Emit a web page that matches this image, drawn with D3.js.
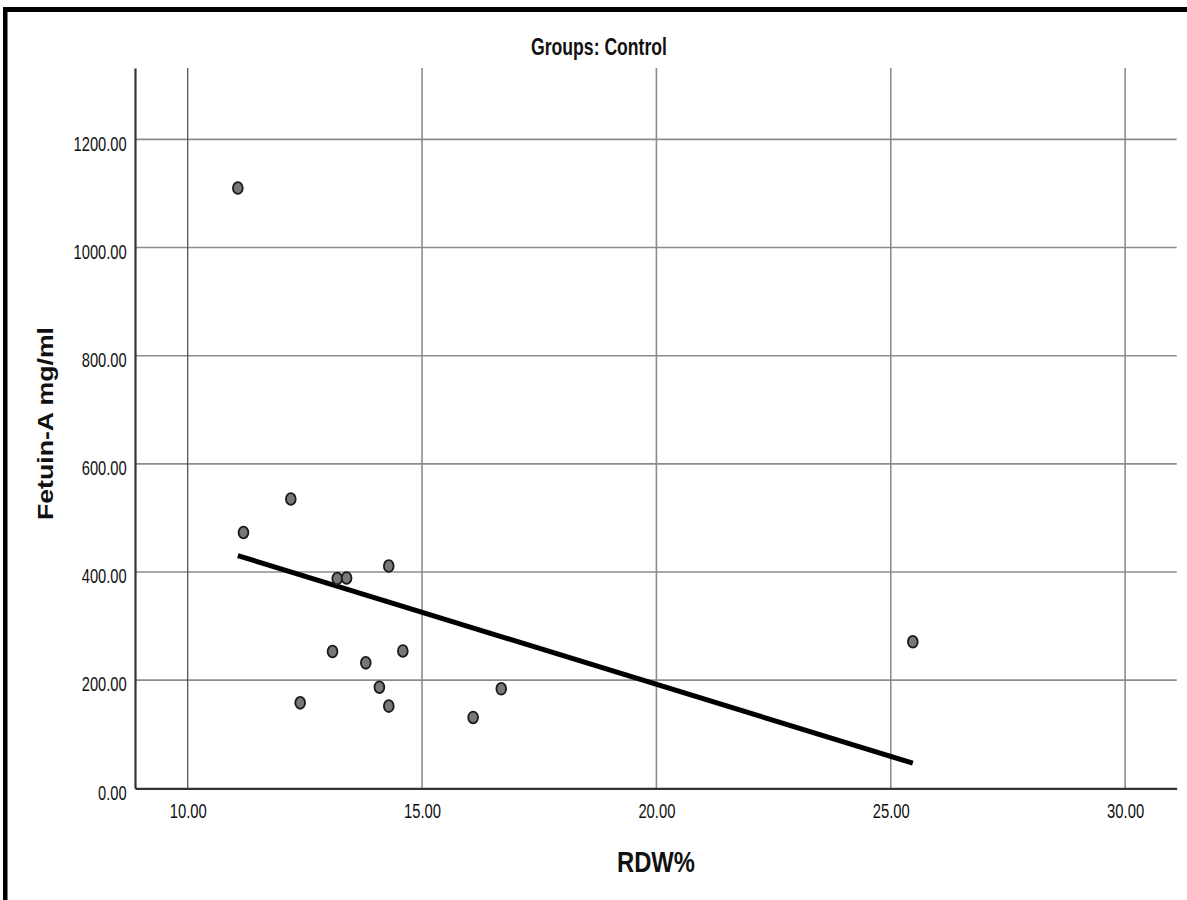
<!DOCTYPE html>
<html>
<head>
<meta charset="utf-8">
<script src="https://cdn.jsdelivr.net/npm/d3@7"></script>
<style>
  html, body { margin: 0; padding: 0; background: #fff; }
  svg { display: block; }
</style>
</head>
<body>
<svg id="chart" width="1187" height="900"></svg>
<script>
// ---- data ----
const rdw =    [11.07, 11.19, 12.20, 12.40, 13.09, 13.19, 13.39, 13.80, 14.09, 14.29, 14.29, 14.59, 16.09, 16.69, 25.47];
const fetuin = [1110,  473,   535,   158,   253,   388,   389,   232,   187,   411,   152,   254,   131,   184,   271];
const xTicks = [10, 15, 20, 25, 30];
const yTicks = [0, 200, 400, 600, 800, 1000, 1200];
const title = "Groups: Control";
const xLabel = "RDW%";
const yLabel = "Fetuin-A mg/ml";

(function () {
const svg = d3.select("#chart");
const W = 1187, H = 900;
const pLeft = 135, pRight = 1176.7, pTop = 68, pBottom = 788.3;

const x = d3.scaleLinear().domain([8.876, 31.1]).range([pLeft, pRight]);
const y = d3.scaleLinear().domain([0, 1332]).range([pBottom, pTop]);

const sans = "'Liberation Sans', Arial, sans-serif";

// frame (top and left black bands)
svg.append("rect").attr("x", 3).attr("y", 7).attr("width", W - 3).attr("height", 5).attr("fill", "#000");
svg.append("rect").attr("x", 3).attr("y", 7).attr("width", 4.5).attr("height", H - 7).attr("fill", "#000");

// gridlines
svg.append("g").selectAll("line").data(yTicks.filter(d => d > 0)).join("line")
  .attr("x1", pLeft).attr("x2", pRight)
  .attr("y1", d => y(d)).attr("y2", d => y(d))
  .attr("stroke", "#8c8c8c").attr("stroke-width", 1.6);
svg.append("g").selectAll("line").data(xTicks).join("line")
  .attr("x1", d => x(d)).attr("x2", d => x(d))
  .attr("y1", pTop).attr("y2", pBottom)
  .attr("stroke", d => d === 10 ? "#555" : "#8c8c8c")
  .attr("stroke-width", d => d === 10 ? 1.3 : 1.6);

// axes
const fmt = d3.format(".2f");
const gx = svg.append("g").attr("transform", `translate(0,${pBottom})`)
  .call(d3.axisBottom(x).tickValues(xTicks).tickFormat(fmt).tickSize(0).tickSizeOuter(0));
gx.select(".domain").attr("stroke", "#333").attr("stroke-width", 2.2);
gx.selectAll("text").attr("y", 0).attr("dy", 0)
  .attr("transform", "translate(0,29.7) scale(1,1.38)")
  .attr("font-family", sans).attr("font-size", 14.8).attr("fill", "#111");

const gy = svg.append("g").attr("transform", `translate(${pLeft},0)`)
  .call(d3.axisLeft(y).tickValues(yTicks).tickFormat(fmt).tickSize(0).tickSizeOuter(0));
gy.select(".domain").attr("stroke", "#333").attr("stroke-width", 2.2);
gy.selectAll("text").attr("x", 0).attr("dy", 0)
  .attr("transform", "translate(-8.3,10.7) scale(1,1.38)")
  .attr("font-family", sans).attr("font-size", 14.7).attr("fill", "#111");

// regression line (least squares fit of the points)
const mx = d3.mean(rdw), my = d3.mean(fetuin);
const sxy = d3.sum(rdw, (d, i) => (d - mx) * (fetuin[i] - my));
const sxx = d3.sum(rdw, d => (d - mx) * (d - mx));
const slope = sxy / sxx, icpt = my - slope * mx;
const [xmin, xmax] = d3.extent(rdw);
svg.append("path")
  .datum([xmin, xmax])
  .attr("d", d3.line().x(d => x(d)).y(d => y(icpt + slope * d)))
  .attr("stroke", "#000").attr("stroke-width", 5).attr("fill", "none");

// points
svg.append("g").selectAll("ellipse").data(rdw.map((d, i) => [d, fetuin[i]])).join("ellipse")
  .attr("cx", d => x(d[0])).attr("cy", d => y(d[1]))
  .attr("rx", 4.9).attr("ry", 5.9)
  .attr("fill", "#787878").attr("stroke", "#1a1a1a").attr("stroke-width", 1.8);

// title
svg.append("text").text(title)
  .attr("transform", "translate(599,55) scale(1,1.3)")
  .attr("text-anchor", "middle")
  .attr("font-family", sans).attr("font-weight", "bold").attr("font-size", 18.5)
  .attr("textLength", 136).attr("lengthAdjust", "spacingAndGlyphs")
  .attr("fill", "#111");

// x label
svg.append("text").text(xLabel)
  .attr("transform", "translate(656,871.7) scale(1,1.22)")
  .attr("text-anchor", "middle")
  .attr("font-family", sans).attr("font-weight", "bold").attr("font-size", 23.5)
  .attr("textLength", 78).attr("lengthAdjust", "spacingAndGlyphs")
  .attr("fill", "#111");

// y label
svg.append("text").text(yLabel)
  .attr("transform", "translate(53,423.5) rotate(-90)")
  .attr("text-anchor", "middle")
  .attr("font-family", sans).attr("font-weight", "bold").attr("font-size", 22)
  .attr("textLength", 193).attr("lengthAdjust", "spacingAndGlyphs")
  .attr("fill", "#111");
})();
</script>
</body>
</html>
